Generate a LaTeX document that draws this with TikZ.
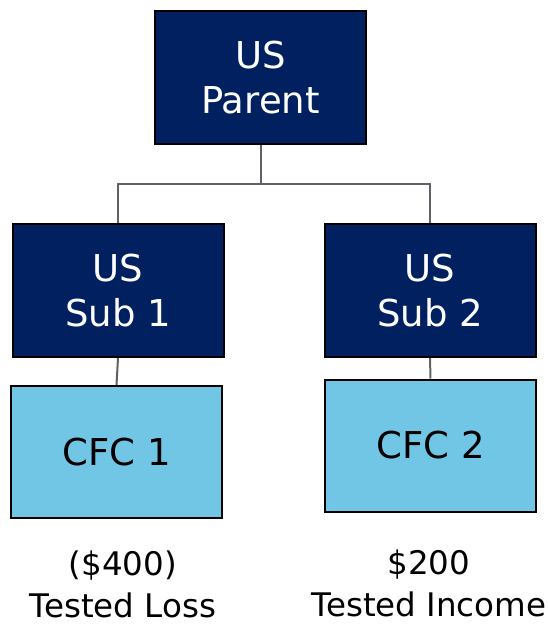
\documentclass[tikz,border=0pt]{standalone}
\usepackage{fontspec}
\setmainfont{DejaVu Sans}
\definecolor{navy}{HTML}{002060}
\definecolor{cfcblue}{HTML}{71C6E6}
\definecolor{linkgray}{HTML}{5F6368}
\begin{document}
\begin{tikzpicture}[x=1pt,y=-1pt,
  entity/.style={draw=black,line width=2pt,minimum width=211pt,minimum height=133pt,
    inner sep=0pt,align=center,font=\fontsize{37}{45}\selectfont},
  usbox/.style={entity,fill=navy,text=white},
  cfcbox/.style={entity,fill=cfcblue,text=black,minimum height=132pt},
  link/.style={draw=linkgray,line width=2pt},
  note/.style={align=center,font=\fontsize{32.5}{42}\selectfont,inner sep=0pt}]
  \useasboundingbox (0,0) rectangle (549,625);

  % ownership boxes
  \node[usbox] (parent) at (260.5,77.5) {US\\Parent};
  \node[usbox] (sub1) at (118,290.5) {US\\Sub 1};
  \node[usbox] (sub2) at (430,290.5) {US\\Sub 2};
  \node[cfcbox] (cfc1) at (116.5,452) {CFC 1};
  \node[cfcbox] (cfc2) at (430.5,445.5) {CFC 2};

  % tree connectors
  \coordinate (bus) at (260.5,184);
  \draw[link] (parent.south) -- (bus) -| (sub1.north);
  \draw[link] (bus) -| (sub2.north);
  \draw[link] (sub1.south) -- (cfc1.north);
  \draw[link] (sub2.south) -- (cfc2.north);

  % tested income / loss
  \node[note] (loss) at (123,584) {(\$400)\\Tested Loss};
  \node[note] (income) at (429,583) {\$200\\Tested Income};
\end{tikzpicture}
\end{document}
